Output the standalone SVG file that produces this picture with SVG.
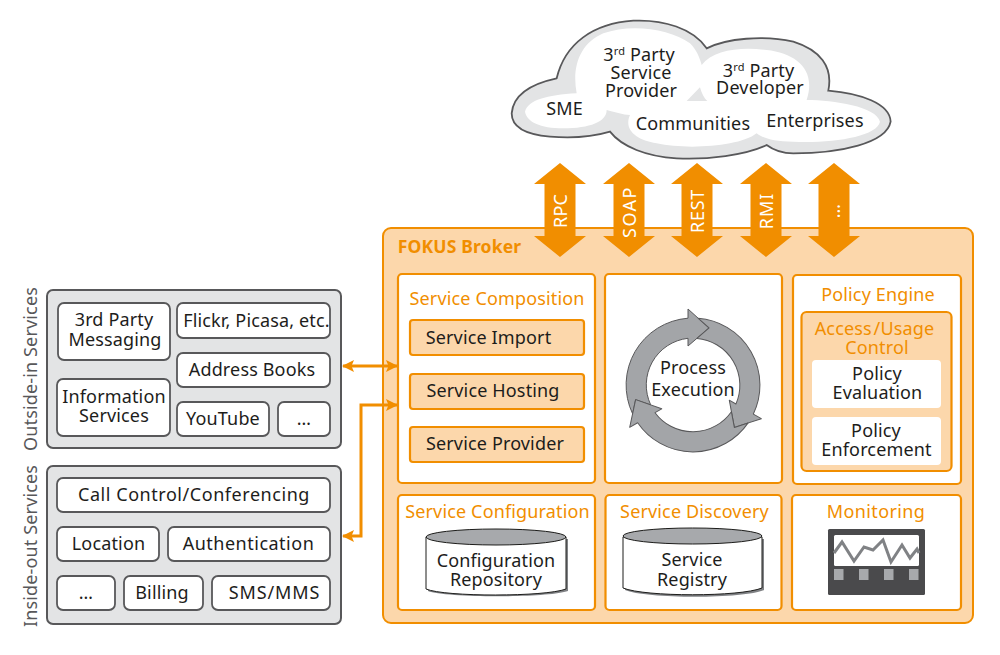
<svg xmlns="http://www.w3.org/2000/svg" xmlns:xlink="http://www.w3.org/1999/xlink" width="1000" height="655" viewBox="0 0 1000 655">
<style>
text{font-family:"Noto Sans","Open Sans","Liberation Sans",sans-serif;font-size:18px;fill:#1d1d1b;text-anchor:middle;letter-spacing:.15px}
.o{fill:#f18e00}
.w{fill:#fff}
.g{fill:#58585a}
.broker{fill:#fcd7ab;stroke:#f18e00;stroke-width:2}
.box{fill:#fff;stroke:#f18e00;stroke-width:2.2}
.sub{fill:#fcd7ab;stroke:#f18e00;stroke-width:2.2}
.in{fill:#fff}
.outer{fill:#e3e4e5;stroke:#58585a;stroke-width:2}
.item{fill:#fff;stroke:#58585a;stroke-width:1.8}
.wa{fill:#f18e00}
.link{fill:none;stroke:#f18e00;stroke-width:3}
.sec{fill:#a3a5a8;stroke:#58585a;stroke-width:1;stroke-linejoin:round}
</style>
<defs>
<path id="dbl" d="M0 -47L26 -26H15.500V26H26L0 47L-26 26H-15.500V-26H-26Z"/>
<path id="seg" class="sec" d="M-57.400 14.600L-60.400 28.800A67 67 0 0 1 -5 -66.800L-5 -76L16 -57L-5 -39L-5 -46.700A47 47 0 0 0 -42.300 19.900Z"/>
<marker id="ah" markerUnits="userSpaceOnUse" markerWidth="13" markerHeight="12" refX="11" refY="6" orient="auto-start-reverse"><path d="M0 0L12 6L0 12L2.500 6Z" fill="#f18e00"/></marker>
</defs>

<g id="cloud">
<g transform="translate(500,0) scale(.3333)">
<path d="M35 340C40 280 100 250 170 235C195 130 280 70 400 62C490 58 580 85 620 145C680 115 790 105 880 125C960 150 1000 200 985 272C1080 280 1170 310 1172 365C1160 430 1020 460 880 460C850 460 820 450 800 435C740 465 620 480 530 475C440 470 365 440 330 395C280 410 210 415 150 410C90 405 35 390 35 340Z" fill="#e3e4e5" stroke="#58585a" stroke-width="5.400"/>
<path d="M75 335C85 300 140 285 230 280C215 200 240 130 310 100C390 70 510 85 570 130C590 150 600 175 605 195C640 150 720 140 800 150C890 160 950 210 920 300C1000 300 1130 320 1140 365C1130 410 1000 430 880 425C820 425 790 415 770 400C720 440 560 450 470 430C410 420 370 390 390 345C370 345 340 335 320 330C320 365 270 385 190 385C120 385 80 365 75 335Z" fill="#fff"/>
<path d="M560 303L600 262C605 280 612 295 622 303Z" fill="#e3e4e5"/>
</g>
<text x="564.500" y="115">SME</text>
<text x="639" y="61">3<tspan font-size="11" dy="-6">rd</tspan><tspan dy="6"> Party</tspan></text>
<text x="641" y="79">Service</text>
<text x="641" y="97">Provider</text>
<text x="758.500" y="77">3<tspan font-size="11" dy="-6">rd</tspan><tspan dy="6"> Party</tspan></text>
<text x="760" y="94">Developer</text>
<text x="693" y="130">Communities</text>
<text x="815" y="127">Enterprises</text>
</g>

<g id="broker">
<rect class="broker" x="383" y="228" width="590" height="395" rx="8"/>
<text class="o" x="459.500" y="253" style="font-weight:700;font-size:17.500px">FOKUS Broker</text>
</g>

<g id="connectors" fill="#f18e00">
<use xlink:href="#dbl" href="#dbl" x="560" y="210" class="wa"/>
<use xlink:href="#dbl" href="#dbl" x="629" y="210" class="wa"/>
<use xlink:href="#dbl" href="#dbl" x="697" y="210" class="wa"/>
<use xlink:href="#dbl" href="#dbl" x="766" y="210" class="wa"/>
<use xlink:href="#dbl" href="#dbl" x="834" y="210" class="wa"/>
<path class="link" d="M343 366H397" marker-start="url(#ah)" marker-end="url(#ah)"/>
<path class="link" d="M397 405H361V536H343" marker-start="url(#ah)" marker-end="url(#ah)"/>
</g>
<text class="w" transform="translate(567,211) rotate(-90)">RPC</text>
<text class="w" style="letter-spacing:1.500px" transform="translate(636,212) rotate(-90)">SOAP</text>
<text class="w" style="letter-spacing:.7px" transform="translate(704,211) rotate(-90)">REST</text>
<text class="w" style="letter-spacing:.9px" transform="translate(773,211) rotate(-90)">RMI</text>
<text class="w" transform="translate(840,211) rotate(-90)">…</text>

<g id="service-composition">
<rect class="box" x="398" y="274" width="197" height="209" rx="4"/>
<text class="o" x="497" y="305">Service Composition</text>
<rect class="sub" x="410" y="320" width="174" height="35" rx="3"/>
<text x="488.500" y="344">Service Import</text>
<rect class="sub" x="410" y="374" width="174" height="35" rx="3"/>
<text x="493" y="397">Service Hosting</text>
<rect class="sub" x="410" y="427" width="174" height="35" rx="3"/>
<text x="495" y="450">Service Provider</text>
</g>

<g id="process-execution">
<rect class="box" x="605" y="274" width="177" height="209" rx="4"/>
<use xlink:href="#seg" href="#seg" transform="translate(693,385)"/>
<use xlink:href="#seg" href="#seg" transform="translate(693,385) rotate(120)"/>
<use xlink:href="#seg" href="#seg" transform="translate(693,385) rotate(240)"/>
<text x="693" y="374">Process</text>
<text x="693" y="396">Execution</text>
</g>

<g id="policy-engine">
<rect class="box" x="793" y="275" width="168" height="209" rx="4"/>
<text class="o" x="878" y="301">Policy Engine</text>
<rect class="sub" x="801.500" y="312" width="150" height="159" rx="5"/>
<text class="o" style="word-spacing:-3px" x="874.500" y="335">Access /Usage</text>
<text class="o" x="877" y="354">Control</text>
<rect class="in" x="812" y="360" width="129" height="48" rx="4"/>
<text x="877" y="380">Policy</text>
<text x="877.500" y="399">Evaluation</text>
<rect class="in" x="812" y="417" width="129" height="48" rx="4"/>
<text x="876" y="437">Policy</text>
<text x="876.500" y="456">Enforcement</text>
</g>

<g id="service-configuration">
<rect class="box" x="398" y="495" width="197" height="115" rx="4"/>
<text class="o" x="497.500" y="518">Service Configuration</text>
<path d="M428 539V591C445 598 548 598 568 591V539Z" fill="#808285"/>
<path d="M426 537V589C445 597 545 597 566 589V537Z" fill="#fff" stroke="#1d1d1b" stroke-width="1"/>
<ellipse cx="496" cy="537" rx="70" ry="8" fill="#a7a9ac" stroke="#1d1d1b" stroke-width="1"/>
<text x="496" y="567">Configuration</text>
<text x="496" y="586">Repository</text>
</g>

<g id="service-discovery">
<rect class="box" x="605.500" y="495" width="176" height="115" rx="4"/>
<text class="o" x="694.500" y="518">Service Discovery</text>
<path d="M625 539V590C645 599 745 599 764 590V539Z" fill="#808285"/>
<path d="M623 537V588C645 597 740 597 762 588V537Z" fill="#fff" stroke="#1d1d1b" stroke-width="1"/>
<ellipse cx="692.500" cy="536" rx="69.500" ry="8" fill="#a7a9ac" stroke="#1d1d1b" stroke-width="1"/>
<text x="692" y="566">Service</text>
<text x="692" y="586">Registry</text>
</g>

<g id="monitoring">
<rect class="box" x="792" y="495" width="169" height="115" rx="4"/>
<text class="o" style="letter-spacing:.4px" x="876" y="518">Monitoring</text>
<rect x="828" y="529" width="97" height="66" rx="1.500" fill="#4a4a4c"/>
<rect x="834" y="535" width="85" height="31" rx="1.500" fill="#fff"/>
<path d="M834 553L842 542L854 561L864 547L873 550L883 540L891 562L902 545L910 558L917 549L919 553" fill="none" stroke="#808285" stroke-width="3"/>
<rect x="834" y="569" width="9.500" height="11" fill="#a7a9ac"/>
<rect x="859" y="569" width="9.500" height="11" fill="#a7a9ac"/>
<rect x="884" y="569" width="9.500" height="11" fill="#a7a9ac"/>
<rect x="909" y="569" width="9.500" height="11" fill="#a7a9ac"/>
</g>

<g id="outside-in">
<text class="g" transform="translate(37,369) rotate(-90)">Outside-in Services</text>
<rect class="outer" x="47" y="290" width="294" height="158" rx="6"/>
<rect class="item" x="58" y="303" width="112" height="57" rx="6"/>
<text x="114" y="326">3rd Party</text>
<text x="115" y="346">Messaging</text>
<rect class="item" x="177" y="303" width="153" height="35" rx="6"/>
<text x="256.500" y="327">Flickr, Picasa, etc.</text>
<rect class="item" x="177" y="353" width="153" height="34" rx="6"/>
<text x="252" y="376">Address Books</text>
<rect class="item" x="57" y="379" width="113" height="57" rx="6"/>
<text x="114" y="403">Information</text>
<text x="114" y="422">Services</text>
<rect class="item" x="177" y="402" width="92" height="34" rx="6"/>
<text x="223" y="425">YouTube</text>
<rect class="item" x="278" y="402" width="52" height="34" rx="6"/>
<text x="304" y="425">…</text>
</g>

<g id="inside-out">
<text class="g" transform="translate(37,546) rotate(-90)">Inside-out Services</text>
<rect class="outer" x="47" y="466" width="294" height="158" rx="6"/>
<rect class="item" x="57" y="478" width="273" height="34" rx="6"/>
<text x="194" y="501" style="letter-spacing:.55px">Call Control/Conferencing</text>
<rect class="item" x="57" y="527" width="102" height="34" rx="6"/>
<text x="108.500" y="550">Location</text>
<rect class="item" x="168" y="527" width="162" height="34" rx="6"/>
<text x="248.500" y="550" style="letter-spacing:.5px">Authentication</text>
<rect class="item" x="57" y="576" width="58" height="34" rx="6"/>
<text x="86" y="599">…</text>
<rect class="item" x="124" y="576" width="79" height="34" rx="6"/>
<text x="162" y="599">Billing</text>
<rect class="item" x="212" y="576" width="118" height="34" rx="6"/>
<text x="274.500" y="599" style="letter-spacing:.9px">SMS/MMS</text>
</g>
</svg>
